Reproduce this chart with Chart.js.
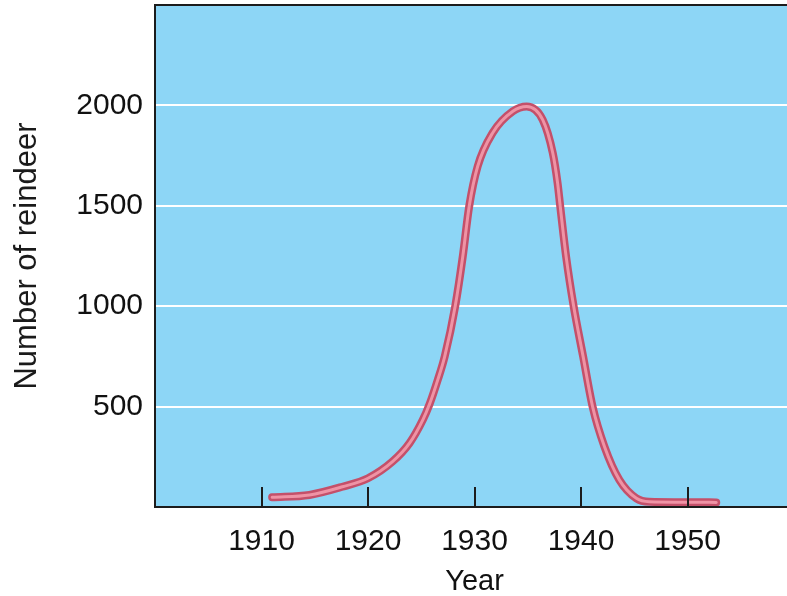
<!DOCTYPE html>
<html>
<head>
<meta charset="utf-8">
<script src="https://cdn.jsdelivr.net/npm/chart.js@4.4.1/dist/chart.umd.min.js"></script>
<style>
  html, body { margin: 0; padding: 0; background: #fff; overflow: hidden; }
  #wrap { width: 794px; height: 621px; margin-top: -25px; }
</style>
</head>
<body>
<div id="wrap"><canvas id="reindeerChart"></canvas></div>
<script>
/* ================= DATA ================= */
const years = [1911, 1914.5, 1917.6, 1920, 1922.3, 1923.9, 1925.15, 1925.8, 1926.55, 1927.2,
  1928.2, 1928.9, 1929.5, 1930.3, 1931.7, 1933.6, 1934.9, 1936.4, 1937.35, 1937.8,
  1938.05, 1938.6, 1939.3, 1940.2, 1941.1, 1942.2, 1943.6, 1945.2, 1946.4, 1952.7];
const reindeer = [48, 60, 101, 143, 226, 318, 434, 515, 633, 749,
  1003, 1248, 1497, 1697, 1863, 1971, 1995, 1929, 1763, 1614,
  1497, 1248, 1003, 749, 497, 301, 135, 43, 26, 23];
const xTicks = [1910, 1920, 1930, 1940, 1950];
const yTicks = [500, 1000, 1500, 2000];

const points = years.map((y, i) => ({ x: y, y: reindeer[i] }));
const font = "'Liberation Sans', Arial, Helvetica, sans-serif";

/* ================= FRAME + INNER TICKS ================= */
const frame = {
  id: "frame",
  beforeDraw(chart) {
    const { ctx, chartArea: a } = chart;
    ctx.save();
    ctx.fillStyle = "#8dd6f6";
    ctx.fillRect(a.left, a.top, a.right - a.left, a.bottom - a.top);
    ctx.restore();
  },
  afterDatasetsDraw(chart) {
    const { ctx, chartArea: a, scales } = chart;
    ctx.save();
    ctx.strokeStyle = "#1c1c1c";
    ctx.lineWidth = 2;
    xTicks.forEach(v => {
      const px = Math.round(scales.x.getPixelForValue(v));
      ctx.beginPath();
      ctx.moveTo(px, a.bottom);
      ctx.lineTo(px, a.bottom - 20);
      ctx.stroke();
    });
    ctx.beginPath();
    ctx.moveTo(a.right + 5, a.top);
    ctx.lineTo(a.left, a.top);
    ctx.lineTo(a.left, a.bottom);
    ctx.lineTo(a.right + 5, a.bottom);
    ctx.stroke();
    ctx.restore();
  }
};

/* ================= CHART ================= */
new Chart(document.getElementById("reindeerChart"), {
  type: "line",
  data: {
    datasets: [{
      // light core, drawn on top
      data: points,
      borderColor: "#ef93a5",
      borderWidth: 3,
      borderCapStyle: "round",
      cubicInterpolationMode: "monotone",
      pointRadius: 0,
      fill: false
    }, {
      // dark outline
      data: points,
      borderColor: "#c4506a",
      borderWidth: 8,
      borderCapStyle: "round",
      cubicInterpolationMode: "monotone",
      pointRadius: 0,
      fill: false
    }]
  },
  options: {
    responsive: true,
    maintainAspectRatio: false,
    animation: false,
    layout: { padding: 0 },
    plugins: { legend: { display: false }, tooltip: { enabled: false } },
    scales: {
      x: {
        type: "linear",
        min: 1900,
        max: 1960,
        afterBuildTicks: s => { s.ticks = xTicks.map(v => ({ value: v })); },
        afterFit: s => { s.height = 89; },
        grid: { display: false, drawTicks: false },
        border: { display: false },
        ticks: { color: "#111111", font: { family: font, size: 30 }, padding: 17, maxRotation: 0,
          callback: v => String(v) },
        title: { display: true, text: "Year", color: "#111111",
          font: { family: font, size: 29, lineHeight: 1 }, padding: { top: 0, bottom: 0 } }
      },
      y: {
        min: 0,
        max: 2500,
        afterBuildTicks: s => { s.ticks = yTicks.map(v => ({ value: v })); },
        afterFit: s => { s.width = 155; },
        grid: { color: "#ffffff", lineWidth: 2, drawTicks: false },
        border: { display: false },
        ticks: { color: "#111111", font: { family: font, size: 30 }, padding: 12,
          callback: v => String(v) },
        title: { display: true, text: "Number of reindeer", color: "#1a1a1a",
          font: { family: font, size: 31, lineHeight: 1 }, padding: { top: 12, bottom: 0 } }
      }
    }
  },
  plugins: [frame]
});
</script>
</body>
</html>
